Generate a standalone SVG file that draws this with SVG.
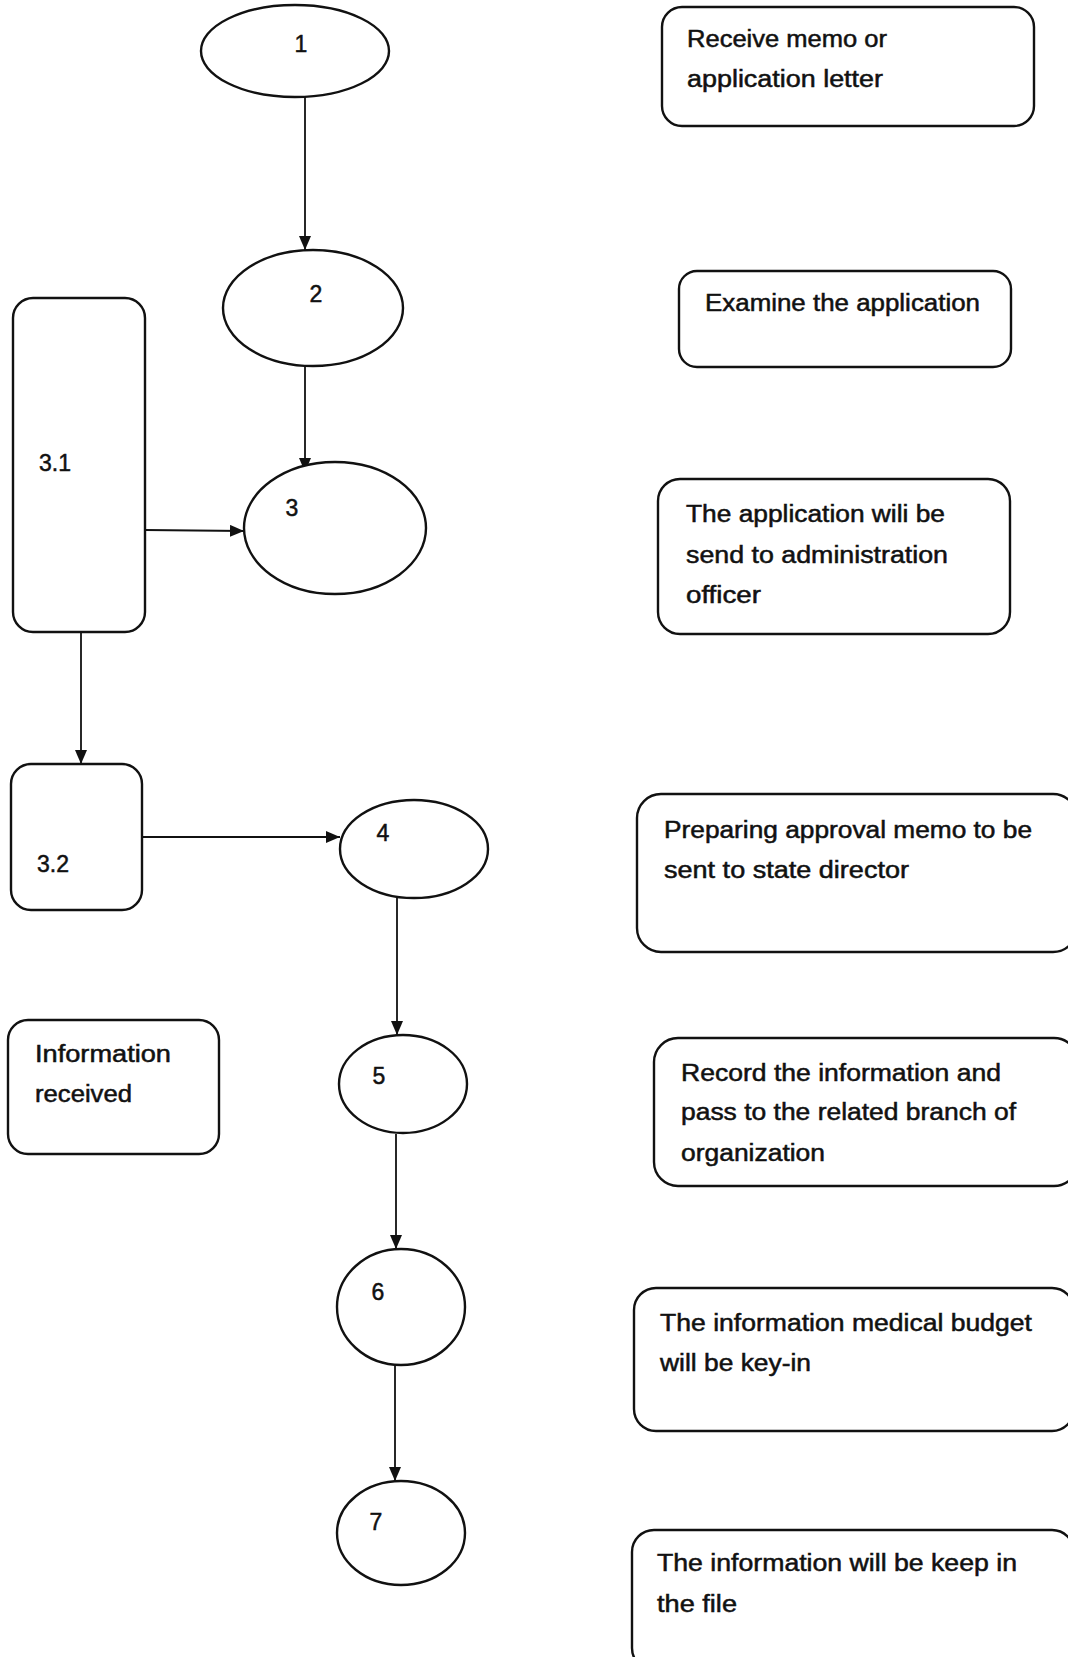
<svg xmlns="http://www.w3.org/2000/svg" width="1068" height="1657" viewBox="0 0 1068 1657">
<style>
.shape{fill:#fff;stroke:#111;stroke-width:2.4}
.lbl{font-family:"Liberation Sans",Arial,sans-serif;font-size:23px;fill:#111;stroke:#111;stroke-width:0.5}
.num{font-family:"Liberation Sans",Arial,sans-serif;font-size:23px;fill:#111;stroke:#111;stroke-width:0.5;text-anchor:middle}
.conn{stroke:#111;stroke-width:1.8;fill:none;marker-end:url(#arr)}
</style>
<defs>
<marker id="arr" viewBox="0 0 14 12" refX="14" refY="6" markerWidth="14" markerHeight="12" markerUnits="userSpaceOnUse" orient="auto">
<path d="M0,0 L14,6 L0,12 z" fill="#111"/>
</marker>
</defs>
<rect width="1068" height="1657" fill="#fff"/>

<g id="connectors">
<line class="conn" x1="305" y1="97" x2="305" y2="250"/>
<line class="conn" x1="305" y1="366" x2="305" y2="472"/>
<line class="conn" x1="145" y1="530" x2="244" y2="531"/>
<line class="conn" x1="81" y1="632" x2="81" y2="764"/>
<line class="conn" x1="142" y1="837" x2="340" y2="837"/>
<line class="conn" x1="397" y1="898" x2="397" y2="1035"/>
<line class="conn" x1="396" y1="1134" x2="396" y2="1249"/>
<line class="conn" x1="395" y1="1366" x2="395" y2="1481"/>
</g>

<g id="node-1"><ellipse class="shape" cx="295" cy="51" rx="94" ry="46"/><text class="num" x="301" y="52">1</text></g>
<g id="node-2"><ellipse class="shape" cx="313" cy="308" rx="90" ry="58"/><text class="num" x="316" y="302">2</text></g>
<g id="node-3"><ellipse class="shape" cx="335" cy="528" rx="91" ry="66"/><text class="num" x="292" y="516">3</text></g>
<g id="node-3-1"><rect class="shape" x="13" y="298" width="132" height="334" rx="20"/><text class="num" x="55" y="471">3.1</text></g>
<g id="node-3-2"><rect class="shape" x="11" y="764" width="131" height="146" rx="20"/><text class="num" x="53" y="872">3.2</text></g>
<g id="node-4"><ellipse class="shape" cx="414" cy="849" rx="74" ry="49"/><text class="num" x="383" y="841">4</text></g>
<g id="node-5"><ellipse class="shape" cx="403" cy="1084" rx="64" ry="49"/><text class="num" x="379" y="1084">5</text></g>
<g id="node-6"><ellipse class="shape" cx="401" cy="1307" rx="64" ry="58"/><text class="num" x="378" y="1300">6</text></g>
<g id="node-7"><ellipse class="shape" cx="401" cy="1533" rx="64" ry="52"/><text class="num" x="376" y="1530">7</text></g>

<g id="info-received"><rect class="shape" x="8" y="1020" width="211" height="134" rx="20"/>
<text class="lbl" x="35" y="1062" textLength="136" lengthAdjust="spacingAndGlyphs">Information</text>
<text class="lbl" x="35" y="1102" textLength="97" lengthAdjust="spacingAndGlyphs">received</text></g>

<g id="desc-1"><rect class="shape" x="662" y="7" width="372" height="119" rx="20"/>
<text class="lbl" x="687" y="47" textLength="200" lengthAdjust="spacingAndGlyphs">Receive memo or</text>
<text class="lbl" x="687" y="87" textLength="196" lengthAdjust="spacingAndGlyphs">application letter</text></g>

<g id="desc-2"><rect class="shape" x="679" y="271" width="332" height="96" rx="18"/>
<text class="lbl" x="705" y="311" textLength="275" lengthAdjust="spacingAndGlyphs">Examine the application</text></g>

<g id="desc-3"><rect class="shape" x="658" y="479" width="352" height="155" rx="22"/>
<text class="lbl" x="686" y="522" textLength="259" lengthAdjust="spacingAndGlyphs">The application wili be</text>
<text class="lbl" x="686" y="563" textLength="262" lengthAdjust="spacingAndGlyphs">send to administration</text>
<text class="lbl" x="686" y="603" textLength="75" lengthAdjust="spacingAndGlyphs">officer</text></g>

<g id="desc-4"><rect class="shape" x="637" y="794" width="440" height="158" rx="24"/>
<text class="lbl" x="664" y="838" textLength="368" lengthAdjust="spacingAndGlyphs">Preparing approval memo to be</text>
<text class="lbl" x="664" y="878" textLength="245" lengthAdjust="spacingAndGlyphs">sent to state director</text></g>

<g id="desc-5"><rect class="shape" x="654" y="1038" width="424" height="148" rx="24"/>
<text class="lbl" x="681" y="1081" textLength="320" lengthAdjust="spacingAndGlyphs">Record the information and</text>
<text class="lbl" x="681" y="1120" textLength="335" lengthAdjust="spacingAndGlyphs">pass to the related branch of</text>
<text class="lbl" x="681" y="1161" textLength="144" lengthAdjust="spacingAndGlyphs">organization</text></g>

<g id="desc-6"><rect class="shape" x="634" y="1288" width="440" height="143" rx="22"/>
<text class="lbl" x="660" y="1331" textLength="372" lengthAdjust="spacingAndGlyphs">The information medical budget</text>
<text class="lbl" x="660" y="1371" textLength="151" lengthAdjust="spacingAndGlyphs">will be key-in</text></g>

<g id="desc-7"><rect class="shape" x="632" y="1530" width="442" height="140" rx="22"/>
<text class="lbl" x="657" y="1571" textLength="360" lengthAdjust="spacingAndGlyphs">The information will be keep in</text>
<text class="lbl" x="657" y="1612" textLength="80" lengthAdjust="spacingAndGlyphs">the file</text></g>
</svg>
